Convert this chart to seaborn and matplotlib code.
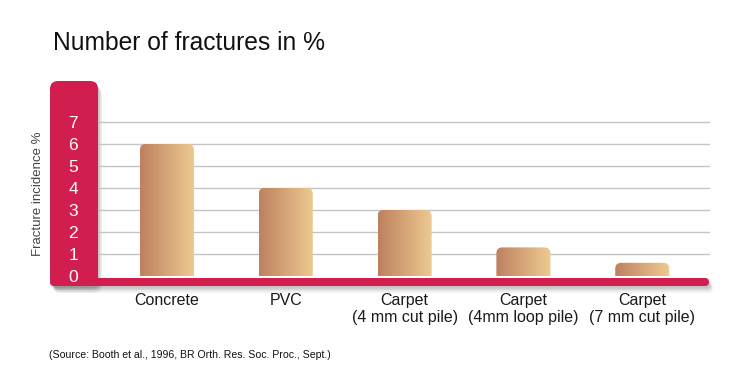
import numpy as np
import pandas as pd
import matplotlib
matplotlib.use("Agg")
import matplotlib.pyplot as plt
import matplotlib.transforms as mtransforms
from matplotlib.patches import FancyBboxPatch
from matplotlib.colors import LinearSegmentedColormap
import seaborn as sns

categories = ["Concrete", "PVC", "Carpet\n(4 mm cut pile)", "Carpet\n(4mm loop pile)", "Carpet\n(7 mm cut pile)"]
values = [6.0, 4.0, 3.0, 1.3, 0.6]
ytick_vals = [0, 1, 2, 3, 4, 5, 6, 7]
title = "Number of fractures in %"
ylabel = "Fracture incidence %"
source = "(Source: Booth et al., 1996, BR Orth. Res. Soc. Proc., Sept.)"

RED = "#D21E4E"
BAR_L = "#BE805F"
BAR_R = "#EECB91"

sns.set_theme(style="white")
plt.rcParams['font.family'] = ['Liberation Sans', 'DejaVu Sans']

W, H = 754, 375
fig = plt.figure(figsize=(W / 100, H / 100), dpi=100)
ax = fig.add_axes([98 / W, (H - 286) / H, 612 / W, 205 / H])

df = pd.DataFrame({"cat": categories, "val": values})
sns.barplot(data=df, x="cat", y="val", ax=ax, width=0.455, color=BAR_L, zorder=2)

ax.set_axisbelow(True)
ax.set_yticks(ytick_vals)
ax.set_yticklabels([str(v) for v in ytick_vals])
ax.grid(axis="y", color="#C4C4C4", linewidth=1.0)
ax.grid(axis="x", visible=False)
gls = ax.yaxis.get_gridlines()
gls[0].set_visible(False)
for s in ax.spines.values():
    s.set_visible(False)

ax.tick_params(axis="y", length=0, pad=18, labelsize=12.5, labelcolor="white")
for lab in ax.get_yticklabels():
    lab.set_ha("center")
ax.tick_params(axis="x", length=0, pad=5, labelsize=11.5, labelcolor="#1a1a1a")
ax.set_xlabel("")
ax.set_ylabel(ylabel, fontsize=9.5, color="#444444")
ax.yaxis.set_label_coords(-0.088, 0.45)

# gradient bars with rounded tops, built from seaborn's bar patches
cmap = LinearSegmentedColormap.from_list("bar", [BAR_L, BAR_R])
grad = np.linspace(0, 1, 256).reshape(1, -1)
rx = 6 / 118.75
ry = 6 / 22
for p in list(ax.patches):
    x0, y0 = p.get_x(), p.get_y()
    w, h = p.get_width(), p.get_height()
    p.set_alpha(0)
    rp = FancyBboxPatch((x0, y0 - 0.5), w, h + 0.5,
                        boxstyle=f"round,pad=0,rounding_size={rx}",
                        mutation_aspect=ry / rx, facecolor="none", edgecolor="none",
                        transform=ax.transData)
    ax.add_patch(rp)
    im = ax.imshow(grad, cmap=cmap, aspect="auto", extent=(x0, x0 + w, y0, y0 + h),
                   zorder=2, interpolation="bicubic")
    im.set_clip_path(rp)
ax.set_xlim(-0.58, 4.57)
ax.set_ylim(-10 / 22, 195 / 22)

# red L-shaped axis frame, in pixel coordinates (y from top)
T = mtransforms.Affine2D().scale(1 / 100, -1 / 100).translate(0, H / 100) + fig.dpi_scale_trans
for (off, a) in [(7, 0.04), (5.5, 0.05), (4, 0.07), (2.5, 0.08)]:
    for (xy, w, h, r) in [((50, 81), 48, 205, 8), ((50, 278), 659, 8, 4)]:
        sh = FancyBboxPatch((xy[0] + off * 0.6, xy[1] + off), w, h,
                            boxstyle=f"round,pad=0,rounding_size={r}",
                            facecolor="black", edgecolor="none", alpha=a,
                            transform=T, clip_on=False, zorder=0.3)
        ax.add_artist(sh)
for (xy, w, h, r) in [((50, 81), 48, 205, 8), ((50, 278), 659, 8, 4)]:
    rb = FancyBboxPatch(xy, w, h, boxstyle=f"round,pad=0,rounding_size={r}",
                        facecolor=RED, edgecolor="none", transform=T,
                        clip_on=False, zorder=0.4)
    ax.add_artist(rb)

fig.text(53 / W, 1 - 50 / H, title, fontsize=17.7, color="#111111", va="baseline", ha="left")
fig.text(49 / W, 1 - 355 / H, source, fontsize=7.6,
         color="#111111", va="center", ha="left")

fig.savefig("out.png", dpi=100)
